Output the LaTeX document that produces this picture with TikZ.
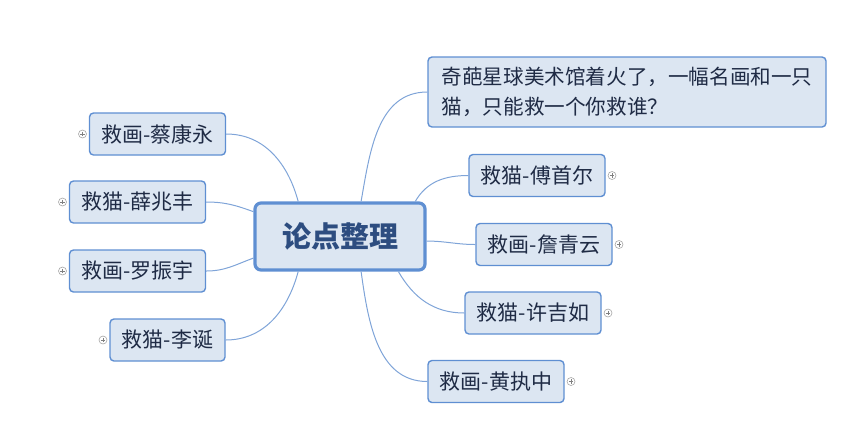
\documentclass[tikz,border=0pt]{standalone}
\usepackage{fontspec}
\setmainfont{Noto Sans CJK SC}
\usetikzlibrary{positioning}
\definecolor{boxfill}{HTML}{DCE6F2}
\definecolor{boxline}{HTML}{5F8FD2}
\definecolor{linkline}{HTML}{7FA4D8}
\definecolor{textdark}{HTML}{1F2B45}
\definecolor{textcenter}{HTML}{2D4D80}
\begin{document}
\begin{tikzpicture}[x=0.5pt,y=-0.5pt,
		topic/.style={draw=boxline,fill=boxfill,rounded corners=3pt,line width=1.6pt,
			minimum width=85pt,minimum height=33.5pt,text=textcenter,
			font=\fontsize{14.5}{16}\selectfont\bfseries},
		sub/.style={draw=boxline,fill=boxfill,rounded corners=2pt,line width=0.7pt,
			minimum width=68pt,minimum height=21pt,text=textdark,
			font=\fontsize{10.5}{12}\selectfont},
		link/.style={draw=linkline,line width=0.5pt},
		plus/.style={circle,draw=gray!70,fill=white,inner sep=0pt,minimum size=4pt,line width=0.3pt,
			path picture={\draw[gray,line width=0.3pt]
				([xshift=0.9pt]path picture bounding box.west) -- ([xshift=-0.9pt]path picture bounding box.east)
				([yshift=-0.9pt]path picture bounding box.north) -- ([yshift=0.9pt]path picture bounding box.south);}}]
	\useasboundingbox (0,0) rectangle (855,430);
	% Mitte
	\node[topic] (ctr) at (340,236.5) {论点整理};
	% Frage oben rechts
	\node[sub,minimum width=199pt,minimum height=35pt,align=left,
		font=\fontsize{10.3}{15}\selectfont] (q) at (627,92)
		{奇葩星球美术馆着火了，一幅名画和一只\\猫，只能救一个你救谁？};
	% rechte Seite
	\node[sub] (r1) at (537,175.5) {救猫-傅首尔};
	\node[sub] (r2) at (544,244.5) {救画-詹青云};
	\node[sub] (r3) at (533,313) {救猫-许吉如};
	\node[sub] (r4) at (496,381.5) {救画-黄执中};
	% linke Seite
	\node[sub] (l1) at (157.5,134) {救画-蔡康永};
	\node[sub] (l2) at (137.5,202) {救猫-薛兆丰};
	\node[sub] (l3) at (137.5,271) {救画-罗振宇};
	\node[sub,minimum width=57.5pt] (l4) at (167.5,340) {救猫-李诞};
	% Verbindungen
	\draw[link] (ctr.59) to[out=80,in=180] (q.west);
	\draw[link] (ctr.25) to[out=60,in=180] (r1.west);
	\draw[link] (ctr.-3) to[out=0,in=180] (r2.west);
	\draw[link] (ctr.-31) to[out=-60,in=180] (r3.west);
	\draw[link] (ctr.-59) to[out=-82,in=180] (r4.west);
	\draw[link] (ctr.140) to[out=105,in=0] (l1.east);
	\draw[link] (ctr.164) to[out=160,in=0] (l2.east);
	\draw[link] (ctr.194) to[out=200,in=0] (l3.east);
	\draw[link] (ctr.220) to[out=255,in=0] (l4.east);
	% kleine Plus-Kreise
	\node[plus,right=1pt of r1] (pr1) {};
	\node[plus,right=1pt of r2] (pr2) {};
	\node[plus,right=1pt of r3] (pr3) {};
	\node[plus,right=1pt of r4] (pr4) {};
	\node[plus,left=1pt of l1] (pl1) {};
	\node[plus,left=1pt of l2] (pl2) {};
	\node[plus,left=1pt of l3] (pl3) {};
	\node[plus,left=1pt of l4] (pl4) {};
\end{tikzpicture}
\end{document}
